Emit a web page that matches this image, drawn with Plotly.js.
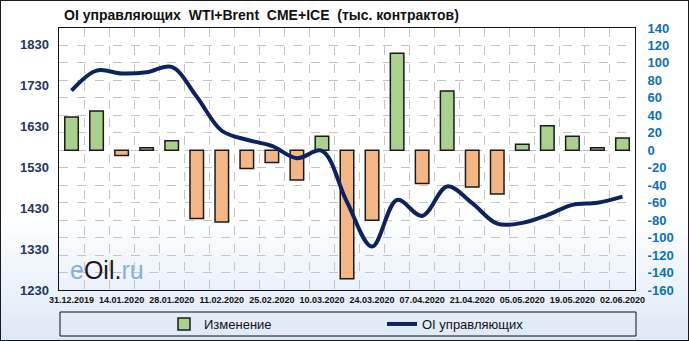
<!DOCTYPE html>
<html><head><meta charset="utf-8">
<script src="https://cdn.plot.ly/plotly-3.0.1.min.js"></script>
<style>
html,body{margin:0;padding:0;background:#fff;}
#wrap{position:relative;width:689px;height:341px;background:linear-gradient(to bottom,#ffffff 0%,#ffffff 62%,#dde9f7 100%);}
#chart{width:689px;height:341px;}
#frame{position:absolute;left:0;top:0;width:689px;height:341px;box-sizing:border-box;border:1px solid #1a1a1a;pointer-events:none;}
</style></head><body>
<div id="wrap"><div id="chart"></div><div id="frame"></div></div>
<script>
const dates = ["31.12.2019","07.01.2020","14.01.2020","21.01.2020","28.01.2020","04.02.2020","11.02.2020","18.02.2020","25.02.2020","03.03.2020","10.03.2020","17.03.2020","24.03.2020","31.03.2020","07.04.2020","14.04.2020","21.04.2020","28.04.2020","05.05.2020","12.05.2020","19.05.2020","26.05.2020","02.06.2020"];
const change = [38,45,-6,3,11,-78,-82,-21,-14,-34,16,-147,-80,111,-38,68,-42,-50,7,28,16,3,14];
const oiManagers = [1717,1766,1759,1762,1775,1702,1619,1597,1582,1552,1570,1445,1336,1450,1411,1483,1442,1392,1394,1413,1438,1443,1458];
const leftTicks = [1230,1330,1430,1530,1630,1730,1830];
const rightTicks = [-160,-140,-120,-100,-80,-60,-40,-20,0,20,40,60,80,100,120,140];
const seriesNames = ["Изменение","OI управляющих"];
const titleText = "OI управляющих\u00a0\u00a0WTI+Brent\u00a0\u00a0CME+ICE\u00a0\u00a0(тыс. контрактов)";

const FONT = "'Liberation Sans', Arial, sans-serif";
const GREEN = "#a9d18e", ORANGE = "#f5b686";

const traces = [
  {
    type: "bar", name: seriesNames[0], x: dates, y: change, yaxis: "y",
    width: 0.54,
    marker: {color: change.map(v => v >= 0 ? GREEN : ORANGE), line: {color: "#1a1a1a", width: 1.5}},
    hoverinfo: "skip"
  },
  {
    type: "scatter", mode: "lines", name: seriesNames[1], x: dates, y: oiManagers, yaxis: "y2",
    line: {color: "#0b2461", width: 4, shape: "spline", smoothing: 1},
    hoverinfo: "skip"
  }
];

const layout = {
  width: 689, height: 341,
  margin: {l: 59, r: 54, t: 28, b: 51, autoexpand: false},
  paper_bgcolor: "rgba(0,0,0,0)", plot_bgcolor: "rgba(0,0,0,0)",
  font: {family: FONT, color: "#111"},
  showlegend: true,
  title: {text: titleText, x: 64/689, xanchor: "left", xref: "container", y: 1 - 15/341, yanchor: "middle", yref: "container",
          font: {family: FONT, size: 14, weight: 700, color: "#111"}},
  xaxis: {
    type: "category", tickmode: "array", tickvals: dates,
    ticktext: dates.map((d, i) => i % 2 === 0 ? d : ""),
    tickson: "boundaries", ticks: "", showgrid: true, griddash: "dash", gridcolor: "#c4c4c4", gridwidth: 1,
    showline: true, mirror: true, linecolor: "#111", linewidth: 1,
    tickangle: 0, tickfont: {family: FONT, size: 9, weight: 700, color: "#111"}, ticklabelstandoff: 1,
    range: [-0.5, 22.5], automargin: false
  },
  yaxis: {
    side: "right", range: [-160, 140], tickmode: "array", tickvals: rightTicks, ticktext: rightTicks.map(String),
    showgrid: true, griddash: "dash", gridcolor: "#c4c4c4", gridwidth: 1, zeroline: false,
    showline: true, mirror: true, linecolor: "#111", linewidth: 1, ticks: "",
    tickfont: {family: FONT, size: 13, weight: 700, color: "#0a70c0"}, ticklabelstandoff: 9, automargin: false
  },
  yaxis2: {
    side: "left", overlaying: "y", range: [1230, 1870], tickmode: "array", tickvals: leftTicks, ticktext: leftTicks.map(String),
    showgrid: false, zeroline: false, ticks: "",
    tickfont: {family: FONT, size: 13, weight: 700, color: "#1f3566"}, ticklabelstandoff: 9, automargin: false
  },
  legend: {
    orientation: "h", x: (164 - 59) / 576, xanchor: "left", y: (290 - 324) / 262, yanchor: "middle",
    bgcolor: "rgba(0,0,0,0)", borderwidth: 0, font: {family: FONT, size: 13, color: "#111"},
    entrywidth: 173, entrywidthmode: "pixels", traceorder: "normal"
  },
  shapes: [
    {type: "rect", xref: "paper", yref: "paper", x0: 1/576, x1: 577/576, y0: (290 - 336)/262, y1: (290 - 312)/262,
     line: {color: "#111", width: 1}, fillcolor: "rgba(0,0,0,0)", layer: "above"}
  ],
  annotations: [
    {xref: "paper", yref: "paper", x: 9/576, y: 20/262, xanchor: "left", yanchor: "middle", showarrow: false,
     text: "<span style='color:#80b2dd'>e</span>Oil<span style='color:#222'>.</span><span style='color:#80b2dd'>ru</span>",
     font: {family: FONT, size: 25, color: "#1a1a1a"}}
  ]
};

Plotly.newPlot("chart", traces, layout, {staticPlot: true, displayModeBar: false});
</script>
</body></html>
